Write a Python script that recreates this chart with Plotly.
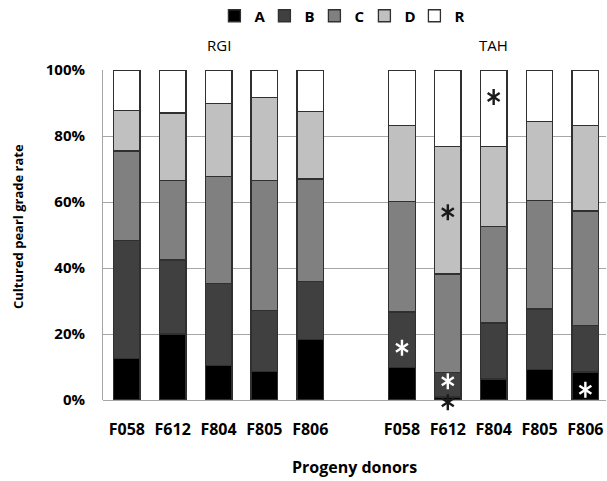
import plotly.graph_objects as go

donors = ["F058", "F612", "F804", "F805", "F806"]
groups = ["RGI", "TAH"]
grades = ["A", "B", "C", "D", "R"]

# percentages per grade, RGI donors then TAH donors
grade_A = [12.5, 20.0, 10.4, 8.6, 18.4, 9.9, 0.9, 6.4, 9.3, 8.5]
grade_B = [35.8, 22.4, 24.8, 18.5, 17.6, 16.8, 7.5, 16.9, 18.3, 14.0]
grade_C = [27.2, 24.2, 32.6, 39.5, 31.0, 33.5, 29.8, 29.3, 32.9, 34.8]
grade_D = [12.2, 20.4, 22.0, 25.1, 20.4, 23.0, 38.6, 24.2, 23.9, 25.9]
grade_R = [12.3, 13.0, 10.2, 8.3, 12.6, 16.8, 23.2, 23.2, 15.6, 16.8]

# significance marks: (bar index, y %, colour)
star_bar = [5, 6, 6, 6, 7, 9]
star_y = [15.8, 5.7, -0.7, 56.9, 91.8, 3.1]
star_col = ["white", "white", "#1a1a1a", "#1a1a1a", "#1a1a1a", "white"]

colors = ["#000000", "#404040", "#808080", "#c0c0c0", "#ffffff"]
series = [grade_A, grade_B, grade_C, grade_D, grade_R]

# positions: group 1 at 0..4, empty slot, group 2 at 6..10
xpos = list(range(5)) + list(range(6, 11))
labels = donors + donors

FONT = "Open Sans"
W, H = 607, 481
T, B = 70, 71                 # paper area: y pixels 70 .. 410
PLOT_H = 330                  # main axis 0..100% occupies 70 .. 400
PAPER_H = H - T - B
EXTRA = PAPER_H - PLOT_H      # room below 0% for the star that sits under a bar
dom0 = EXTRA / PAPER_H
y2_low = -100.0 * EXTRA / PLOT_H
XR = [-0.52, 10.45]


def py(pixel_y):
    return (H - B - pixel_y) / PAPER_H


fig = go.Figure()
for name, vals, col in zip(grades, series, colors):
    fig.add_trace(go.Bar(
        x=xpos, y=vals, name=name, width=0.58,
        marker=dict(color=col, line=dict(color="#303030", width=1.3)),
    ))

# six-spoke asterisks built from two three-spoke marker symbols (same scale, taller axis)
for sym in ["y-up-open", "y-down-open"]:
    fig.add_trace(go.Scatter(
        x=[xpos[i] for i in star_bar], y=star_y, mode="markers", xaxis="x2", yaxis="y2",
        marker=dict(symbol=sym, size=10, color=star_col,
                    line=dict(color=star_col, width=2.4)),
        showlegend=False, hoverinfo="skip", cliponaxis=False,
    ))

for g, xc in zip(groups, [2, 8]):
    fig.add_annotation(x=xc, y=py(45), xref="x", yref="paper", text=g, showarrow=False,
                       xanchor="center", yanchor="middle",
                       font=dict(family=FONT, size=15, color="#000000"))

fig.add_annotation(x=0, xref="paper", xshift=-85, y=py(227), yref="paper", xanchor="center",
                   yanchor="middle",
                   text="<b>Cultured pearl grade rate</b>", textangle=-90, showarrow=False,
                   font=dict(family=FONT, size=13, color="#000000"))

fig.update_layout(
    width=W, height=H,
    margin=dict(l=103, r=1, t=T, b=B, autoexpand=False),
    barmode="stack",
    plot_bgcolor="rgba(0,0,0,0)", paper_bgcolor="white",
    font=dict(family=FONT, color="#000000"),
    showlegend=True,
    legend=dict(orientation="h", x=0.47, xanchor="center", y=1 - 16 / H, yref="container",
                yanchor="middle",
                font=dict(family=FONT, size=15, color="#000000", weight="bold"),
                itemwidth=30, entrywidth=5, entrywidthmode="pixels", traceorder="normal"),
    xaxis=dict(range=XR, tickvals=xpos, ticktext=labels, automargin=False, anchor="y",
               tickfont=dict(family=FONT, size=16, weight="bold"), showgrid=False, zeroline=False,
               showline=False, ticks="", ticklabelstandoff=18,
               title=dict(text="Progeny donors", font=dict(family=FONT, size=16, weight="bold"),
                          standoff=22)),
    yaxis=dict(range=[0, 100], domain=[dom0, 1], tickvals=[0, 20, 40, 60, 80, 100],
               automargin=False, anchor="x",
               ticktext=["%d%%" % v for v in [0, 20, 40, 60, 80, 100]],
               tickfont=dict(family=FONT, size=15, weight="bold"), showgrid=True,
               gridcolor="#a6a6a6", gridwidth=1,
               zeroline=True, zerolinecolor="#a6a6a6", zerolinewidth=1,
               showline=True, linecolor="#a6a6a6", linewidth=1, ticks="", ticklabelstandoff=14),
    xaxis2=dict(range=XR, domain=[0, 1], anchor="y2", visible=False, automargin=False),
    yaxis2=dict(range=[y2_low, 100], domain=[0, 1], anchor="x2", visible=False,
                automargin=False),
)
fig.write_html("out.html", config={"displayModeBar": False},
               post_script="document.body.style.margin='0';document.body.style.overflow='hidden';")
